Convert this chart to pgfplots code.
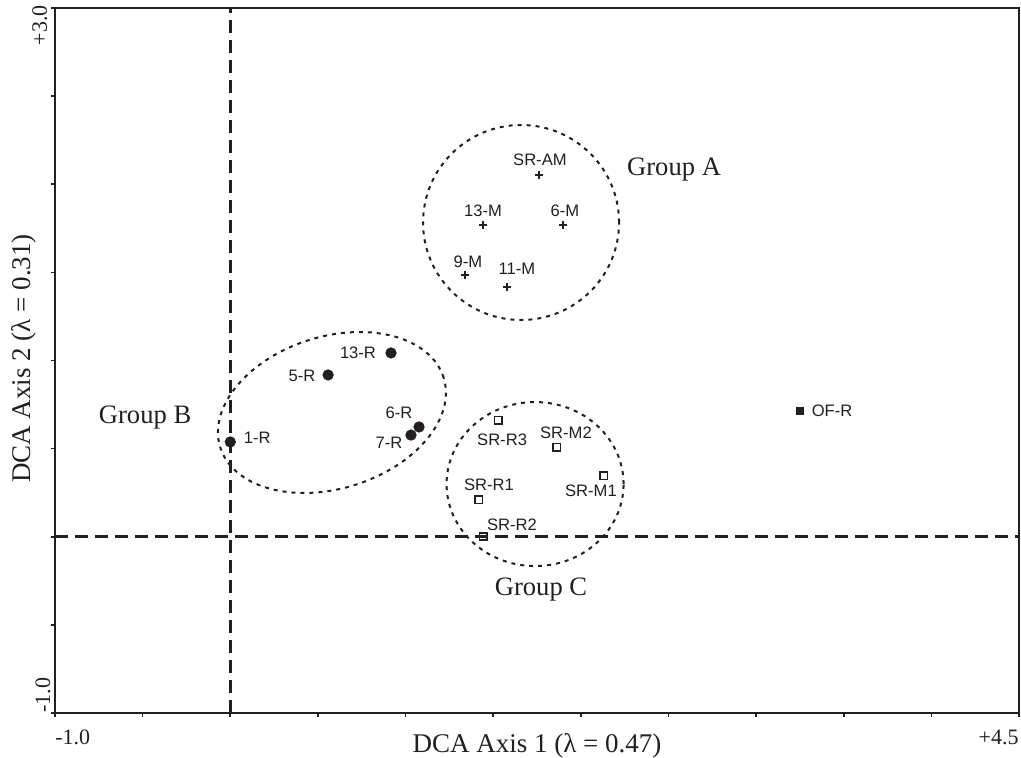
\documentclass[border=0pt]{standalone}
\usepackage{fontspec}
\setmainfont{Liberation Serif}
\newfontfamily\labelfont{Liberation Sans}
\usepackage{pgfplots}
\pgfplotsset{compat=1.18}
\usetikzlibrary{calc}
\definecolor{ink}{HTML}{231F20}
\begin{document}
\begin{tikzpicture}
\begin{axis}[
  scale only axis, width=482pt, height=352.5pt,
  xmin=-1, xmax=4.5, ymin=-1, ymax=3,
  axis line style={line width=1.2pt, ink},
  xtick={-1,-0.5,0,0.5,1,1.5,2,2.5,3,3.5,4,4.5},
  ytick={-1,-0.5,0,0.5,1,1.5,2,2.5,3},
  xticklabels={}, yticklabels={},
  tick align=outside, xtick pos=bottom, ytick pos=left,
  major tick length=2pt,
  tick style={line width=0.8pt, ink},
  clip=false,
]
% reference lines
\draw[ink, line width=1.3pt, dash pattern=on 6.5pt off 3.5pt] (axis cs:0,-1) -- (axis cs:0,3);
\draw[ink, line width=1.3pt, dash pattern=on 6.5pt off 3.5pt] (axis cs:-1,0) -- (axis cs:4.5,0);
% group ellipses
\draw[ink, line width=1pt, dash pattern=on 2pt off 2.5pt] (axis cs:1.659,1.783) ellipse [x radius=49pt, y radius=48.75pt];
\draw[ink, line width=1pt, dash pattern=on 2pt off 2.5pt] (axis cs:1.739,0.299) ellipse [x radius=44.25pt, y radius=41pt];
\draw[ink, line width=1pt, dash pattern=on 2pt off 2.5pt, rotate around={17.3:(axis cs:0.580,0.705)}] (axis cs:0.580,0.705) ellipse [x radius=58.5pt, y radius=38pt];
% Group A: plus markers
\addplot[only marks, mark=+, mark size=1.9pt, line width=1.1pt, ink] coordinates {
  (1.761,2.052) (1.442,1.769) (1.898,1.769) (1.339,1.485) (1.579,1.417)
};
% Group B: filled circles
\addplot[only marks, mark=*, mark size=2.6pt, ink] coordinates {
  (0.917,1.043) (0.558,0.918) (1.077,0.623) (1.031,0.577) (0.000,0.538)
};
% Group C: open squares
\addplot[only marks, mark=square, mark size=1.8pt, line width=0.9pt, ink, mark options={fill=white}] coordinates {
  (1.528,0.662) (1.864,0.509) (2.132,0.345) (1.419,0.209) (1.442,0.000)
};
% OF-R
\addplot[only marks, mark=square*, mark size=1.8pt, ink] coordinates {
  (3.251,0.713)
};
% point labels
\begin{scope}[every node/.style={font=\labelfont\fontsize{8.3pt}{9pt}\selectfont, text=ink, inner sep=0pt}]
\node at (axis cs:1.761,2.052) [xshift=0.5pt, yshift=7.5pt] {SR-AM};
\node at (axis cs:1.442,1.769) [xshift=0pt, yshift=7pt] {13-M};
\node at (axis cs:1.898,1.769) [xshift=1pt, yshift=7pt] {6-M};
\node at (axis cs:1.339,1.485) [xshift=1.5pt, yshift=6.5pt] {9-M};
\node at (axis cs:1.579,1.417) [xshift=5pt, yshift=9pt] {11-M};
\node at (axis cs:0.917,1.043) [xshift=-16.5pt, yshift=0pt] {13-R};
\node at (axis cs:0.558,0.918) [xshift=-13pt, yshift=-0.5pt] {5-R};
\node at (axis cs:1.077,0.623) [xshift=-10pt, yshift=7pt] {6-R};
\node at (axis cs:1.031,0.577) [xshift=-11pt, yshift=-4pt] {7-R};
\node at (axis cs:0.000,0.538) [xshift=13.5pt, yshift=2pt] {1-R};
\node at (axis cs:1.528,0.662) [xshift=2pt, yshift=-10pt] {SR-R3};
\node at (axis cs:1.864,0.509) [xshift=4.5pt, yshift=7pt] {SR-M2};
\node at (axis cs:2.132,0.345) [xshift=-6.5pt, yshift=-7.5pt] {SR-M1};
\node at (axis cs:1.419,0.209) [xshift=5pt, yshift=7.5pt] {SR-R1};
\node at (axis cs:1.442,0.000) [xshift=14.5pt, yshift=6pt] {SR-R2};
\node at (axis cs:3.251,0.713) [xshift=16pt, yshift=0pt] {OF-R};
\end{scope}
% group labels
\begin{scope}[every node/.style={font=\fontsize{13.3pt}{15pt}\selectfont, text=ink, inner sep=0pt}]
\node at (axis cs:2.532,2.081) {Group A};
\node at (axis cs:-0.486,0.674) {Group B};
\node at (axis cs:1.773,-0.302) {Group C};
\end{scope}
% end tick labels
\begin{scope}[every node/.style={font=\fontsize{11pt}{13pt}\selectfont, text=ink, inner sep=0pt}]
\node[anchor=base west] at ($(rel axis cs:0,0)+(0pt,-15.5pt)$) {-1.0};
\node[anchor=base east] at ($(rel axis cs:1,0)+(0pt,-15.5pt)$) {+4.5};
\node[anchor=base east, rotate=90] at ($(rel axis cs:0,1)+(-4pt,1.5pt)$) {+3.0};
\node[anchor=base west, rotate=90] at ($(rel axis cs:0,0)+(-2.5pt,0pt)$) {-1.0};
\end{scope}
% axis titles
\begin{scope}[every node/.style={font=\fontsize{13.5pt}{16pt}\selectfont, text=ink, inner sep=0pt}]
\node[anchor=base] at ($(rel axis cs:0.5,0)+(0pt,-19.5pt)$) {DCA Axis 1 (λ = 0.47)};
\node[anchor=base, rotate=90] at ($(rel axis cs:0,0.5)+(-12pt,1pt)$) {DCA Axis 2 (λ = 0.31)};
\end{scope}
\end{axis}
\pgfresetboundingbox
\path (-27.5pt,-22pt) rectangle (483pt,356.5pt);
\end{tikzpicture}
\end{document}
